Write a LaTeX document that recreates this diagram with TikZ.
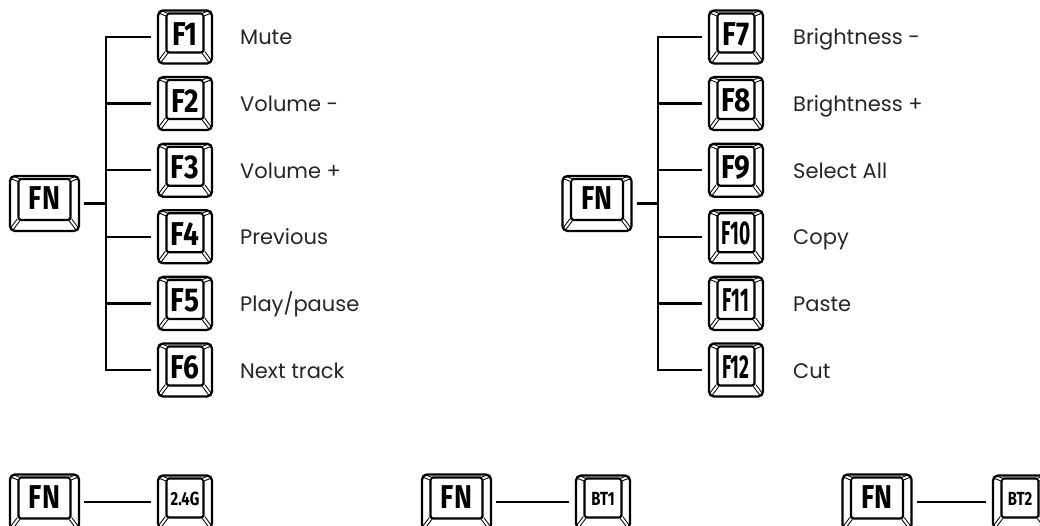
\documentclass[tikz,border=0pt]{standalone}
\usepackage{fontspec}
\setmainfont{Poppins}
\newfontfamily\keyfont{Fira Sans}
\usetikzlibrary{positioning}

\tikzset{
  keycap/.style={draw, line width=2.3pt, rounded corners=5pt, inner sep=0pt,
    path picture={
      \draw[line width=2.3pt, rounded corners=2.5pt]
        ([xshift=8.5pt,yshift=-3pt]path picture bounding box.north west) rectangle
        ([xshift=-8.5pt,yshift=11pt]path picture bounding box.south east);
      \draw[bevel] ([xshift=1pt,yshift=-1pt]path picture bounding box.north west) -- ([xshift=8.5pt,yshift=-4pt]path picture bounding box.north west);
      \draw[bevel] ([xshift=-1pt,yshift=-1pt]path picture bounding box.north east) -- ([xshift=-8.5pt,yshift=-4pt]path picture bounding box.north east);
      \draw[bevel] ([xshift=1pt,yshift=1pt]path picture bounding box.south west) -- ([xshift=8.5pt,yshift=11pt]path picture bounding box.south west);
      \draw[bevel] ([xshift=-1pt,yshift=1pt]path picture bounding box.south east) -- ([xshift=-8.5pt,yshift=11pt]path picture bounding box.south east);
    }},
  bevel/.style={line width=1pt, double=white, double distance=2pt},
  fnkey/.style={keycap, minimum width=69pt, minimum height=55pt},
  fkey/.style={keycap, minimum width=54pt, minimum height=53pt},
  keytxt/.style={font=\keyfont\bfseries\fontsize{33}{33}\selectfont, inner sep=0pt},
  smalltxt/.style={font=\keyfont\bfseries\fontsize{19}{19}\selectfont, inner sep=0pt},
  txt/.style={anchor=base west, inner sep=0pt, text=black!85, font=\fontsize{21}{24}\selectfont},
  conn/.style={line width=2.3pt, line cap=rect}
}

\begin{document}
\begin{tikzpicture}[x=1pt,y=-1pt]
\useasboundingbox (0,0) rectangle (1040,526);

% Fn + F1..F6
\node[fnkey] (fnA) at (44.5,203.5) {};
\node[keytxt] (fnA-t) at ([yshift=5pt]fnA.center) {\scalebox{0.82}[1]{FN}};
\coordinate (jA) at (106,203.5);
\draw[conn, shorten <=5pt] (fnA) -- (jA);
\foreach \n/\t/\l/\s [count=\i from 0] in {f1/F1/Mute/0.85, f2/F2/{Volume -}/0.85, f3/F3/{Volume +}/0.85,
    f4/F4/Previous/0.85, f5/F5/{Play/pause}/0.85, f6/F6/{Next track}/0.85}{
  \node[fkey] (\n) at (185,37+66.6*\i) {};
  \node[keytxt] (\n-t) at ([yshift=3pt]\n.center) {\scalebox{\s}[1]{\t}};
  \node[txt] (\n-l) at (240,45+66.6*\i) {\l};
  \draw[conn, shorten >=7pt] (jA) |- (\n);
}

% Fn + F7..F12
\node[fnkey] (fnB) at (597,203.5) {};
\node[keytxt] (fnB-t) at ([yshift=5pt]fnB.center) {\scalebox{0.82}[1]{FN}};
\coordinate (jB) at (658,203.5);
\draw[conn, shorten <=5pt] (fnB) -- (jB);
\foreach \n/\t/\l/\s [count=\i from 0] in {f7/F7/{Brightness -}/0.85, f8/F8/{Brightness +}/0.85, f9/F9/{Select All}/0.85,
    f10/F10/Copy/0.58, f11/F11/Paste/0.58, f12/F12/Cut/0.58}{
  \node[fkey] (\n) at (736,37+66.6*\i) {};
  \node[keytxt] (\n-t) at ([yshift=3pt]\n.center) {\scalebox{\s}[1]{\t}};
  \node[txt] (\n-l) at (793,45+66.6*\i) {\l};
  \draw[conn, shorten >=7pt] (jB) |- (\n);
}

% mode keys
\node[fnkey] (fnC) at (44.5,502) {};
\node[keytxt] (fnC-t) at ([yshift=5pt]fnC.center) {\scalebox{0.82}[1]{FN}};
\node[fkey] (k24) at (185,502) {};
\node[smalltxt] (k24-t) at ([yshift=3pt]k24.center) {\scalebox{0.78}[1]{2.4G}};
\draw[conn, shorten <=5pt, shorten >=7pt] (fnC) -- (k24);

\node[fnkey] (fnD) at (456.5,502) {};
\node[keytxt] (fnD-t) at ([yshift=5pt]fnD.center) {\scalebox{0.82}[1]{FN}};
\node[fkey] (bt1) at (603,502) {};
\node[smalltxt] (bt1-t) at ([yshift=3pt]bt1.center) {\scalebox{0.78}[1]{BT1}};
\draw[conn, shorten <=5pt, shorten >=7pt] (fnD) -- (bt1);

\node[fnkey] (fnE) at (877,502) {};
\node[keytxt] (fnE-t) at ([yshift=5pt]fnE.center) {\scalebox{0.82}[1]{FN}};
\node[fkey] (bt2) at (1020,502) {};
\node[smalltxt] (bt2-t) at ([yshift=3pt]bt2.center) {\scalebox{0.78}[1]{BT2}};
\draw[conn, shorten <=5pt, shorten >=7pt] (fnE) -- (bt2);

\end{tikzpicture}
\end{document}
